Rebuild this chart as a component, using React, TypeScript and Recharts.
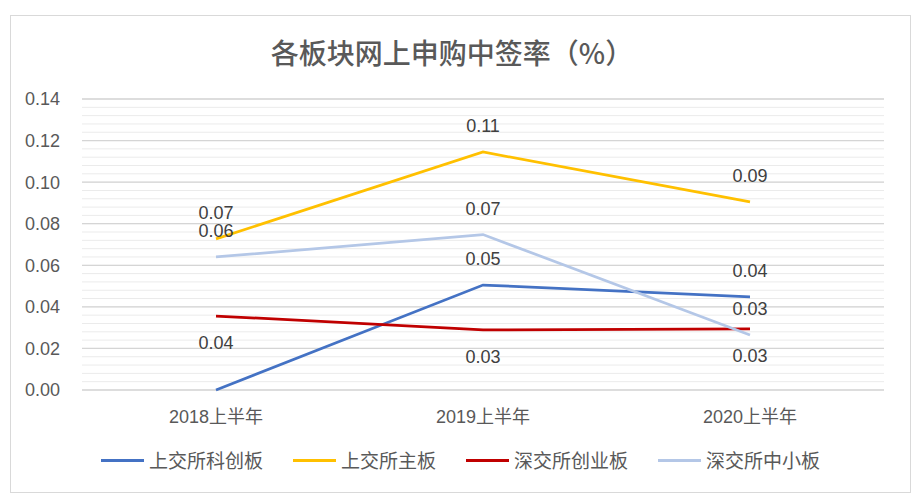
import { LineChart, Line, XAxis, YAxis, CartesianGrid, Legend, LabelList } from 'recharts';

// periods
const periods = ['2018上半年', '2019上半年', '2020上半年'];

// series names, in legend order
const seriesNames = ['上交所科创板', '上交所主板', '深交所创业板', '深交所中小板'];

// winning rates (%) per board
const kcb = [0, 0.0505, 0.0448];
const shMain = [0.0727, 0.1145, 0.0905];
const cyb = [0.0356, 0.0289, 0.0294];
const zxb = [0.064, 0.0748, 0.0265];

const yMax = 0.14;
const yTicks = [0, 0.02, 0.04, 0.06, 0.08, 0.1, 0.12, 0.14];
const minorStep = 0.004;

const data = periods.map((p, i) => ({
  period: p,
  kcb: kcb[i],
  shMain: shMain[i],
  cyb: cyb[i],
  zxb: zxb[i],
}));

const FONT = '"Liberation Sans", "Noto Sans CJK SC", sans-serif';
const CJK = '"Noto Sans CJK SC", sans-serif';

const makeLabel = (dy: number) => (props: any) => {
  const { x, y, value } = props;
  if (!value) return null;
  return (
    <text
      x={x}
      y={y + dy}
      textAnchor="middle"
      dominantBaseline="central"
      fill="#404040"
      fontSize={18}
      fontFamily={FONT}
    >
      {Number(value).toFixed(2)}
    </text>
  );
};

const renderLegend = (props: any) => {
  const payload = [...props.payload].sort(
    (a: any, b: any) => seriesNames.indexOf(a.value) - seriesNames.indexOf(b.value)
  );
  return (
    <div style={{ display: 'flex', justifyContent: 'center', alignItems: 'center' }}>
      {payload.map((entry: any, i: number) => (
        <div key={i} style={{ display: 'flex', alignItems: 'center', marginRight: i < payload.length - 1 ? 30 : 0 }}>
          <div style={{ width: 43, height: 3, background: entry.color, marginRight: 5 }} />
          <span style={{ fontFamily: CJK, fontSize: 19, color: '#595959', lineHeight: '24px' }}>{entry.value}</span>
        </div>
      ))}
    </div>
  );
};

function App() {
  const minorTicks = Array.from({ length: Math.round(yMax / minorStep) + 1 }, (_, i) => i * minorStep);
  return (
    <div
      style={{
        position: 'absolute',
        left: 10,
        top: 15,
        width: 901,
        height: 478,
        boxSizing: 'border-box',
        border: '1px solid #d9d9d9',
        background: '#fff',
      }}
    >
      <div
        style={{
          position: 'absolute',
          top: 16,
          left: 0,
          width: 882,
          textAlign: 'center',
          fontFamily: CJK,
          fontSize: 28,
          fontWeight: 500,
          color: '#595959',
          lineHeight: '40px',
        }}
      >
        各板块网上申购中签率（%）
      </div>
      <LineChart width={899} height={476} data={data} margin={{ top: 83, right: 26, bottom: 62, left: 11 }}>
        <CartesianGrid
          vertical={false}
          stroke="#ebebeb"
          strokeWidth={1}
          horizontalCoordinatesGenerator={({ offset }: any) =>
            minorTicks.map((t) => offset.top + offset.height * (1 - t / yMax))
          }
        />
        <CartesianGrid vertical={false} stroke="#d5d5d5" strokeWidth={1.3} />
        <XAxis
          dataKey="period"
          axisLine={false}
          tickLine={false}
          tickSize={0}
          tickMargin={20}
          height={40}
          padding={{ left: 134, right: 134 }}
          tick={{ fill: '#595959', fontSize: 18, fontFamily: FONT }}
          interval={0}
        />
        <YAxis
          domain={[0, yMax]}
          ticks={yTicks}
          axisLine={false}
          tickLine={false}
          tickSize={0}
          tickMargin={22}
          width={60}
          tickFormatter={(v: number) => v.toFixed(2)}
          tick={{ fill: '#595959', fontSize: 18, fontFamily: FONT }}
        />
        <Legend
          verticalAlign="middle"
          layout="horizontal"
          content={renderLegend}
          wrapperStyle={{ top: 432, left: 0, width: 899 }}
        />
        <Line dataKey="kcb" name={seriesNames[0]} stroke="#4472C4" strokeWidth={2.75} dot={false} isAnimationActive={false}>
          <LabelList dataKey="kcb" content={makeLabel(-26)} />
        </Line>
        <Line dataKey="shMain" name={seriesNames[1]} stroke="#FFC000" strokeWidth={2.75} dot={false} isAnimationActive={false}>
          <LabelList dataKey="shMain" content={makeLabel(-26)} />
        </Line>
        <Line dataKey="cyb" name={seriesNames[2]} stroke="#C00000" strokeWidth={2.75} dot={false} isAnimationActive={false}>
          <LabelList dataKey="cyb" content={makeLabel(27)} />
        </Line>
        <Line dataKey="zxb" name={seriesNames[3]} stroke="#B4C7E7" strokeWidth={2.75} dot={false} isAnimationActive={false}>
          <LabelList dataKey="zxb" content={makeLabel(-26)} />
        </Line>
      </LineChart>
    </div>
  );
}

export default App;
